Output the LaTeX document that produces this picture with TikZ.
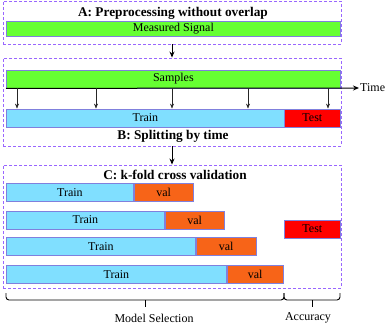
\documentclass[tikz,border=0pt]{standalone}
\usepackage{fontspec}
\setmainfont{Liberation Serif}
\usetikzlibrary{arrows.meta,positioning,calc}
\definecolor{sigGreen}{HTML}{66FF33}
\definecolor{trainBlue}{HTML}{80DFFF}
\definecolor{valOrange}{HTML}{F76418}
\definecolor{testRed}{HTML}{FF0000}
\definecolor{barLine}{HTML}{8080DD}
\definecolor{groupLine}{HTML}{9966FF}

\begin{document}
\begin{tikzpicture}[x=1pt,y=-1pt,
    bar/.style={draw=barLine, line width=0.8pt, inner sep=0pt, anchor=west,
      font=\fontsize{12}{12}\selectfont},
    group/.style={draw=groupLine, line width=0.9pt, dash pattern=on 3pt off 2pt, inner sep=0pt},
    title/.style={font=\fontsize{13.3}{13.3}\selectfont\bfseries, inner sep=0pt},
    flow/.style={-{Stealth[length=6pt,width=5pt]}, line width=1pt},
    tick/.style={-{Stealth[length=5pt,width=4pt]}, line width=0.6pt, black!85},
    brc/.style={line width=0.9pt, rounded corners=3pt}]
    \useasboundingbox (0,0) rectangle (386,326);
    % A: preprocessing
    \node[group, minimum width=338pt, minimum height=43pt] (boxA) at (172,22.5) {};
    \node[title] (titleA) at (173,13) {A: Preprocessing without overlap};
    \node[bar, fill=sigGreen, minimum width=334pt, minimum height=15pt] (signal) at (6,28.5) {Measured Signal};
    % B: splitting by time
    \node[group, minimum width=338pt, minimum height=88pt] (boxB) at (172,102) {};
    \node[bar, fill=sigGreen, minimum width=334pt, minimum height=18pt] (samples) at (6,79) {Samples};
    \node[bar, fill=trainBlue, minimum width=278pt, minimum height=18pt] (trainB) at (6,118) {Train};
    \node[bar, fill=testRed, minimum width=56pt, minimum height=18pt] (testB) at (284,118) {Test};
    \node[title] (titleB) at (173,136) {B: Splitting by time};
    \coordinate (timeEnd) at (359,88);
    \draw[-{Stealth[length=6pt,width=5pt]}, line width=1pt] (samples.south west) -- (timeEnd);
    \node[right=1pt of timeEnd, inner sep=0pt, font=\fontsize{12}{12}\selectfont] (timeLabel) {Time};
    \foreach \x in {17,96,172,248,328}
      \draw[tick] (samples.south west -| \x,0) -- (trainB.north west -| \x,0);
    \draw[flow] (boxA.south) -- (boxB.north);
    % C: k-fold cross validation
    \node[group, minimum width=338pt, minimum height=123pt] (boxC) at (172,226.5) {};
    \node[title] (titleC) at (175,175) {C: k-fold cross validation};
    \draw[flow] (boxB.south) -- (boxC.north);
    \foreach \i/\w/\v/\y in {1/127/59/192.5, 2/158/59/220, 3/189/60/246.5, 4/220/56/274.5} {
      \node[bar, fill=trainBlue, minimum width=\w pt, minimum height=18pt] (train\i) at (6,\y) {Train};
      \node[bar, fill=valOrange, minimum width=\v pt, minimum height=18pt, right=0pt of train\i] (val\i) {val};
    }
    \node[bar, fill=testRed, minimum width=56pt, minimum height=18pt] (testC) at (284,229) {Test};
    % braces
    \coordinate (bL) at (6,293);
    \coordinate (bM) at (284,293);
    \coordinate (bR) at (340,293);
    \draw[brc] (bL) -- ++(0,7) -| (bM);
    \draw[brc] (bM) -- ++(0,7) -| (bR);
    \draw[line width=0.9pt] ($(bL)!0.5!(bM)+(0,7)$) -- ++(0,7);
    \draw[line width=0.9pt] ($(bM)!0.5!(bR)+(0,7)$) -- ++(0,7);
    \node[font=\fontsize{12}{12}\selectfont, inner sep=0pt] (modelSel) at (154,318) {Model Selection};
    \node[font=\fontsize{12}{12}\selectfont, inner sep=0pt] (accuracy) at (308,318) {Accuracy};
\end{tikzpicture}
\end{document}
